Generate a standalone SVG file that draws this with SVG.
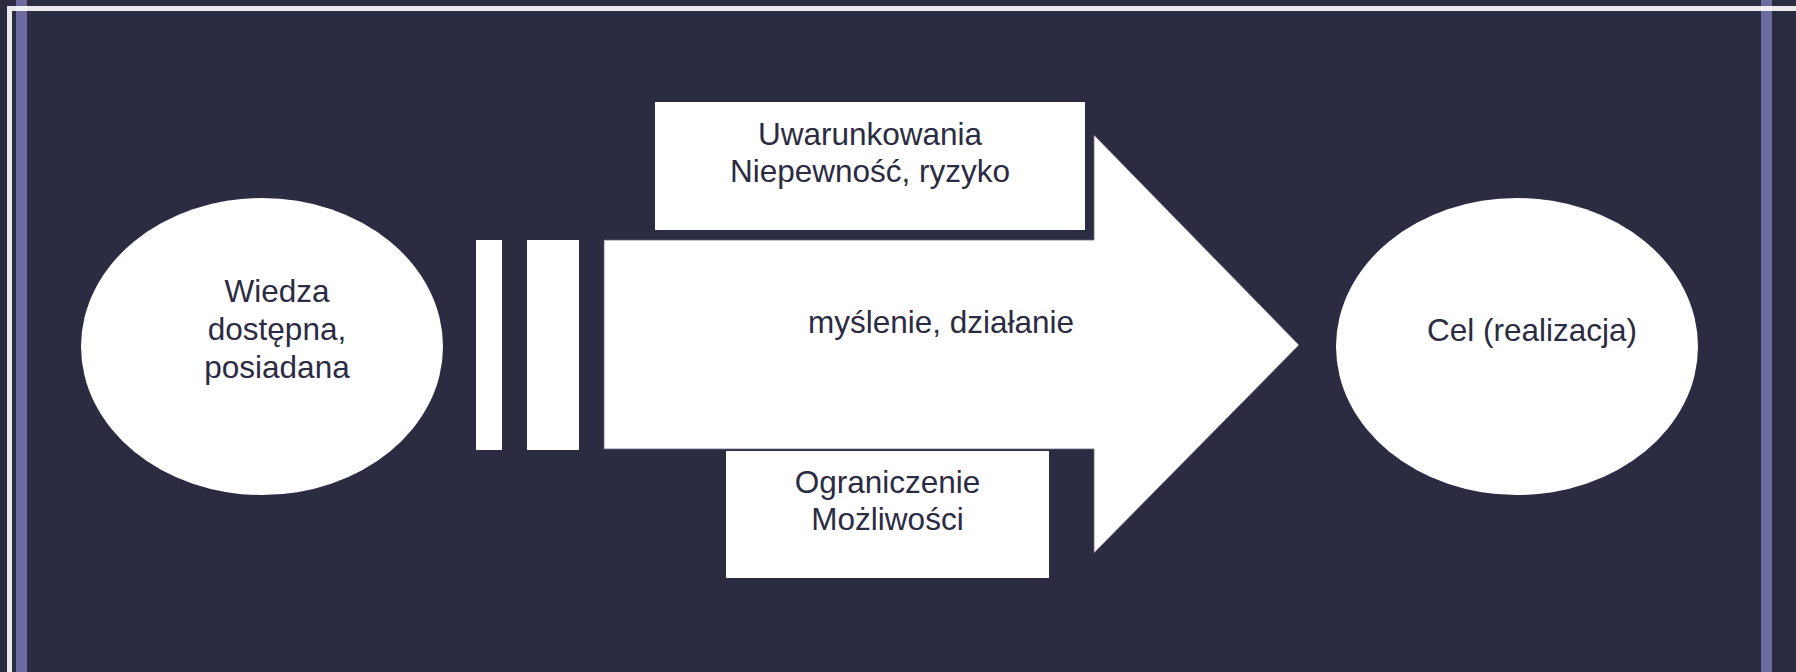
<svg xmlns="http://www.w3.org/2000/svg" width="1796" height="672" viewBox="0 0 1796 672">
<style>
.shape{fill:#ffffff}
.lbl{font-family:"Liberation Sans",Arial,sans-serif;font-size:31.5px;fill:#2b2b42;text-anchor:middle}
.bar{fill:#6c6ca0}
.rule{fill:#ffffff;fill-opacity:0.9}
</style>
<rect x="0" y="0" width="1796" height="672" fill="#2b2b42"/>
<g id="frame">
<rect class="bar" x="16" y="0" width="11" height="672"/>
<rect class="bar" x="1761" y="0" width="11" height="672"/>
<rect class="rule" x="7" y="6" width="1789" height="5"/>
<rect class="rule" x="7" y="11" width="5" height="661"/>
</g>
<g id="connectors">
<rect class="shape" x="476" y="240" width="26" height="210"/>
<rect class="shape" x="527" y="240" width="52" height="210"/>
<polygon class="shape" points="604,240 1094,240 1094,135 1299,345 1094,553 1094,449 604,449" stroke="#6a6a7e" stroke-width="0.8"/>
<text class="lbl" x="941" y="333">myślenie, działanie</text>
</g>
<g id="node-wiedza">
<ellipse class="shape" cx="262" cy="346.5" rx="181" ry="148.5"/>
<text class="lbl" x="277" y="302">Wiedza</text>
<text class="lbl" x="277" y="340">dostępna,</text>
<text class="lbl" x="277" y="378">posiadana</text>
</g>
<g id="node-cel">
<ellipse class="shape" cx="1517" cy="346.5" rx="181" ry="148.5"/>
<text class="lbl" x="1532" y="341">Cel (realizacja)</text>
</g>
<g id="node-uwarunkowania">
<rect class="shape" x="655" y="102" width="430" height="128"/>
<text class="lbl" x="870" y="145">Uwarunkowania</text>
<text class="lbl" x="870" y="182">Niepewność, ryzyko</text>
</g>
<g id="node-ograniczenie">
<rect class="shape" x="726" y="451" width="323" height="127"/>
<text class="lbl" x="887.5" y="493">Ograniczenie</text>
<text class="lbl" x="887.5" y="530">Możliwości</text>
</g>
</svg>
